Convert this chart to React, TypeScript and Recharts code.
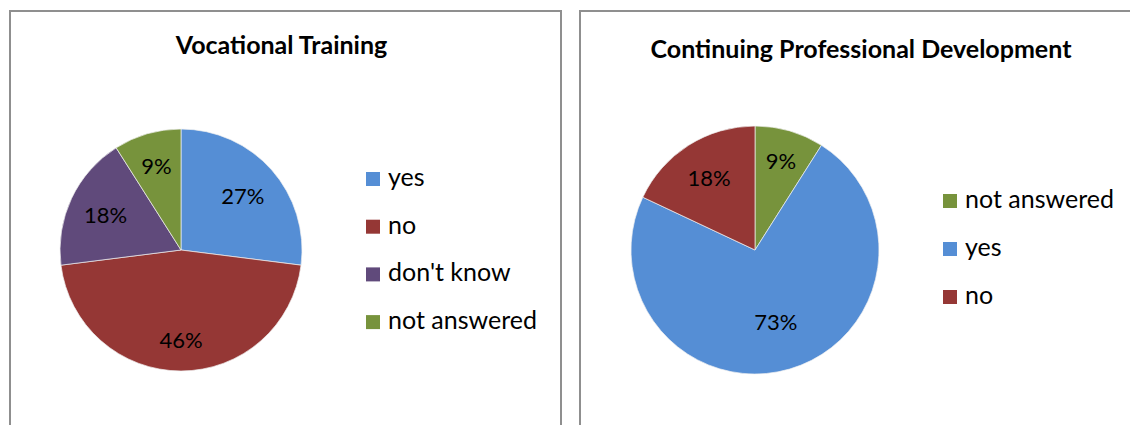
import React from 'react';
import { PieChart, Pie, Cell, Legend } from 'recharts';

// ---- data ----
const vtCategories = ['yes', 'no', "don't know", 'not answered'];
const vtValues = [27, 46, 18, 9];
const cpdCategories = ['not answered', 'yes', 'no'];
const cpdValues = [9, 73, 18];
const titles = ['Vocational Training', 'Continuing Professional Development'];

// ---- styles ----
const COLORS: Record<string, string> = {
  yes: '#558ED5',
  no: '#953735',
  "don't know": '#604A7B',
  'not answered': '#77933C',
};
const FONT = 'Lato, "Open Sans", sans-serif';
const RAD = Math.PI / 180;

const vtData = vtCategories.map((name, i) => ({ name, value: vtValues[i] }));
const cpdData = cpdCategories.map((name, i) => ({ name, value: cpdValues[i] }));

const vtLabelR = [0.68, 0.74, 0.69, 0.73];
const cpdLabelR = [0.75, 0.6, 0.69];

const makeLabel = (factors: number[]) => (props: any) => {
  const { cx, cy, midAngle, outerRadius, percent, index } = props;
  const r = outerRadius * factors[index];
  const x = cx + r * Math.cos(-midAngle * RAD);
  const y = cy + r * Math.sin(-midAngle * RAD);
  return (
    <text
      x={x}
      y={y}
      textAnchor="middle"
      dominantBaseline="central"
      fill="#000"
      style={{ fontFamily: FONT, fontSize: 22 }}
    >
      {`${Math.round(percent * 100)}%`}
    </text>
  );
};

const PAD = 12;
const makeLegend = (names: string[], spacing: number) => () => (
  <svg width={200} height={spacing * names.length + PAD + 10} style={{ display: 'block' }}>
    {names.map((n, i) => (
      <g key={n}>
        <rect x={0} y={PAD + i * spacing} width={14} height={14} fill={COLORS[n]} />
        <text x={22} y={PAD + i * spacing + 14} fill="#000" style={{ fontFamily: FONT, fontSize: 25 }}>
          {n}
        </text>
      </g>
    ))}
  </svg>
);

const panelStyle = (left: number, width: number): React.CSSProperties => ({
  position: 'absolute',
  left,
  top: 10,
  width,
  height: 440,
  border: '2px solid #8f8f8f',
  boxSizing: 'border-box',
  background: '#fff',
});

export default function App() {
  return (
    <div
      style={{
        position: 'absolute',
        left: 0,
        top: 0,
        width: 1130,
        height: 425,
        overflow: 'hidden',
        background: '#fff',
      }}
    >
      <div style={panelStyle(9, 553)} />
      <div style={panelStyle(579, 570)} />

      <div style={{ position: 'absolute', left: 0, top: 0 }}>
        <PieChart width={570} height={425} margin={{ top: 0, right: 0, bottom: 0, left: 0 }}>
          <Pie
            data={vtData}
            dataKey="value"
            nameKey="name"
            cx={181}
            cy={250}
            outerRadius={121}
            startAngle={90}
            endAngle={-270}
            stroke="#f0f0f0"
            strokeWidth={0.7}
            labelLine={false}
            label={makeLabel(vtLabelR)}
            isAnimationActive={false}
          >
            {vtData.map((d) => (
              <Cell key={d.name} fill={COLORS[d.name]} />
            ))}
          </Pie>
          <Legend
            layout="vertical"
            align="right"
            verticalAlign="middle"
            content={makeLegend(vtCategories, 47.7)}
            wrapperStyle={{ position: 'absolute', left: 366, top: 172 - PAD, width: 200 }}
          />
        </PieChart>
      </div>

      <div style={{ position: 'absolute', left: 570, top: 0 }}>
        <PieChart width={560} height={425} margin={{ top: 0, right: 0, bottom: 0, left: 0 }}>
          <Pie
            data={cpdData}
            dataKey="value"
            nameKey="name"
            cx={185}
            cy={250}
            outerRadius={124}
            startAngle={90}
            endAngle={-270}
            stroke="#f0f0f0"
            strokeWidth={0.7}
            labelLine={false}
            label={makeLabel(cpdLabelR)}
            isAnimationActive={false}
          >
            {cpdData.map((d) => (
              <Cell key={d.name} fill={COLORS[d.name]} />
            ))}
          </Pie>
          <Legend
            layout="vertical"
            align="right"
            verticalAlign="middle"
            content={makeLegend(cpdCategories, 48)}
            wrapperStyle={{ position: 'absolute', left: 373, top: 194 - PAD, width: 200 }}
          />
        </PieChart>
      </div>

      <svg
        width={1130}
        height={80}
        style={{ position: 'absolute', left: 0, top: 0, pointerEvents: 'none' }}
      >
        <text
          x={281.5}
          y={54}
          textAnchor="middle"
          fill="#000"
          style={{ fontFamily: FONT, fontSize: 25, fontWeight: 700 }}
        >
          {titles[0]}
        </text>
        <text
          x={861}
          y={58}
          textAnchor="middle"
          fill="#000"
          style={{ fontFamily: FONT, fontSize: 25, fontWeight: 700 }}
        >
          {titles[1]}
        </text>
      </svg>
    </div>
  );
}
